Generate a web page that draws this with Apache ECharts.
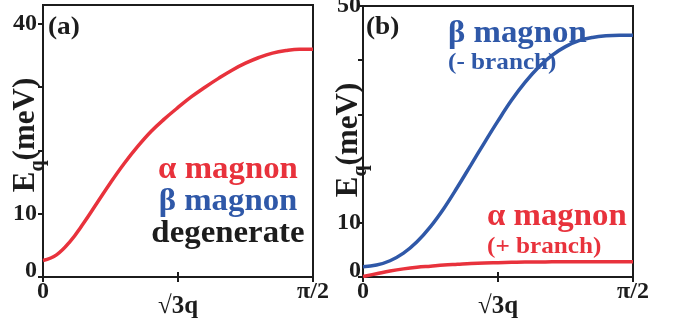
<!DOCTYPE html>
<html>
<head>
<meta charset="utf-8">
<script src="https://cdn.jsdelivr.net/npm/echarts@6/dist/echarts.min.js"></script>
<style>
html,body{margin:0;padding:0;background:#fff;}
#chart{width:680px;height:327px;}
</style>
</head>
<body>
<div id="chart"></div>
<script>
// ---- data ----
const qPoints = [0, 0.05, 0.10, 0.15, 0.20, 0.25, 0.30, 0.35, 0.40, 0.45, 0.50, 0.55, 0.60, 0.65, 0.70, 0.75, 0.80, 0.85, 0.90, 0.95, 1.00];
const energyA = [2.6, 3.5, 5.6, 8.5, 11.7, 14.9, 17.9, 20.6, 23.0, 25.0, 26.8, 28.5, 30.0, 31.4, 32.7, 33.8, 34.7, 35.4, 35.8, 36.0, 36.0];
const energyBeta = [1.9, 2.2, 3.0, 4.4, 6.5, 9.3, 12.7, 16.6, 20.7, 24.8, 28.8, 32.6, 35.9, 38.7, 40.9, 42.5, 43.6, 44.2, 44.5, 44.6, 44.6];
const energyAlpha = [0.1, 0.6, 1.1, 1.5, 1.8, 2.0, 2.2, 2.35, 2.5, 2.6, 2.65, 2.7, 2.75, 2.75, 2.8, 2.8, 2.8, 2.8, 2.8, 2.8, 2.8];

const xTickValues = [0, 0.5, 1];
const xTickLabels = ['0', '√3q', 'π/2'];
const yTicksA = [0, 10, 20, 30, 40];
const yLabelsA = [0, 10, 40];
const yMaxA = 43;
const yTicksB = [0, 10, 20, 30, 40, 50];
const yLabelsB = [0, 10, 50];
const yMaxB = 50;

const RED = '#e8323c';
const BLUE = '#2f58a8';
const INK = '#1c1c1c';
const FONT = '"Liberation Serif", "Times New Roman", serif';

function pairs(xs, ys) { return xs.map((x, i) => [x, ys[i]]); }

const chart = echarts.init(document.getElementById('chart'), null, {renderer: 'canvas'});

const grids = [
  {left: 43, top: 5, width: 270, bottom: 50},
  {left: 363, top: 6, width: 270, bottom: 50}
];

function xAxesFor(gi) {
  return [
    {
      type: 'value', gridIndex: gi, min: 0, max: 1, position: 'bottom',
      axisLine: {show: false},
      splitLine: {show: false},
      axisTick: {show: true, inside: true, length: 5, customValues: xTickValues, lineStyle: {color: INK, width: 2}},
      axisLabel: {
        show: true, customValues: xTickValues, margin: 3,
        color: INK, fontFamily: FONT, fontWeight: 'bold', fontSize: 24,
        formatter: v => {
          const i = xTickValues.indexOf(v);
          const t = i >= 0 ? xTickLabels[i] : '';
          return v === 0.5 ? '{r|' + t + '}' : t;
        },
        rich: {r: {fontFamily: FONT, fontWeight: 'bold', fontSize: 25, color: INK, padding: [14, 0, 0, 0]}}
      }
    },
    {
      type: 'value', gridIndex: gi, min: 0, max: 1, position: 'top',
      axisLine: {show: false}, splitLine: {show: false},
      axisTick: {show: true, inside: true, length: 5, customValues: xTickValues, lineStyle: {color: INK, width: 2}},
      axisLabel: {show: false}
    }
  ];
}

function yAxesFor(gi, ticks, labels, max, margin) {
  return [
    {
      type: 'value', gridIndex: gi, min: 0, max: max, position: 'left',
      axisLine: {show: false}, splitLine: {show: false},
      axisTick: {show: true, inside: false, length: 4, customValues: ticks, lineStyle: {color: INK, width: 2}},
      axisLabel: {
        show: true, customValues: labels, margin: margin,
        color: INK, fontFamily: FONT, fontWeight: 'bold', fontSize: 24,
        formatter: v => v === 0 ? '{z|0}' : String(v),
        rich: {z: {fontFamily: FONT, fontWeight: 'bold', fontSize: 24, color: INK, padding: [0, 0, 12, 0]}}
      }
    },
    {
      type: 'value', gridIndex: gi, min: 0, max: max, position: 'right',
      axisLine: {show: false}, splitLine: {show: false},
      axisTick: {show: true, inside: true, length: 5, customValues: ticks, lineStyle: {color: INK, width: 2}},
      axisLabel: {show: false}
    }
  ];
}

function label(text, x, y, size, color, align, sx) {
  return {
    type: 'text', x: x, y: y, scaleX: sx || 1, scaleY: 1,
    z: 100,
    style: {
      text: text, fill: color, font: 'bold ' + size + 'px ' + FONT,
      textAlign: align, textVerticalAlign: 'bottom'
    }
  };
}

function yTitle(x, y) {
  return {
    type: 'text', x: x, y: y, rotation: Math.PI / 2, z: 100,
    style: {
      text: '{e|E}{q|q}{e|(meV)}',
      textAlign: 'center', textVerticalAlign: 'middle',
      rich: {
        e: {fontFamily: FONT, fontWeight: 'bold', fontSize: 31, fill: INK, color: INK, lineHeight: 31},
        q: {fontFamily: FONT, fontWeight: 'bold', fontSize: 20, fill: INK, color: INK, lineHeight: 20, verticalAlign: 'bottom', padding: [0, 0, -6, 0]}
      }
    }
  };
}

chart.setOption({
  animation: false,
  backgroundColor: '#fff',
  grid: grids.map(g => Object.assign({show: true, borderColor: INK, borderWidth: 2, backgroundColor: 'transparent', containLabel: false, outerBoundsMode: 'none'}, g)),
  xAxis: xAxesFor(0).concat(xAxesFor(1)),
  yAxis: yAxesFor(0, yTicksA, yLabelsA, yMaxA, 6).concat(yAxesFor(1, yTicksB, yLabelsB, yMaxB, 2)),
  series: [
    {type: 'line', xAxisIndex: 0, yAxisIndex: 0, data: pairs(qPoints, energyA), smooth: 0.4, showSymbol: false, lineStyle: {color: RED, width: 3.5}},
    {type: 'line', xAxisIndex: 2, yAxisIndex: 2, data: pairs(qPoints, energyBeta), smooth: 0.4, showSymbol: false, lineStyle: {color: BLUE, width: 3.5}},
    {type: 'line', xAxisIndex: 2, yAxisIndex: 2, data: pairs(qPoints, energyAlpha), smooth: 0.4, showSymbol: false, lineStyle: {color: RED, width: 3.5}}
  ],
  graphic: [
    yTitle(26, 135),
    yTitle(349, 140),
    label('(a)', 48, 40, 26, INK, 'left', 1.05),
    label('(b)', 366, 40, 26, INK, 'left', 1.05),
    label('α magnon', 228, 185, 31, RED, 'center', 1.06),
    label('β magnon', 228, 217, 31, BLUE, 'center', 1.06),
    label('degenerate', 228, 249, 31, INK, 'center', 1.06),
    label('β magnon', 448, 49, 31, BLUE, 'left', 1.06),
    label('(- branch)', 448, 75, 24, BLUE, 'left', 1.05),
    label('α magnon', 487, 232, 31, RED, 'left', 1.06),
    label('(+ branch)', 487, 259, 24, RED, 'left', 1.05)
  ]
});
</script>
</body>
</html>
